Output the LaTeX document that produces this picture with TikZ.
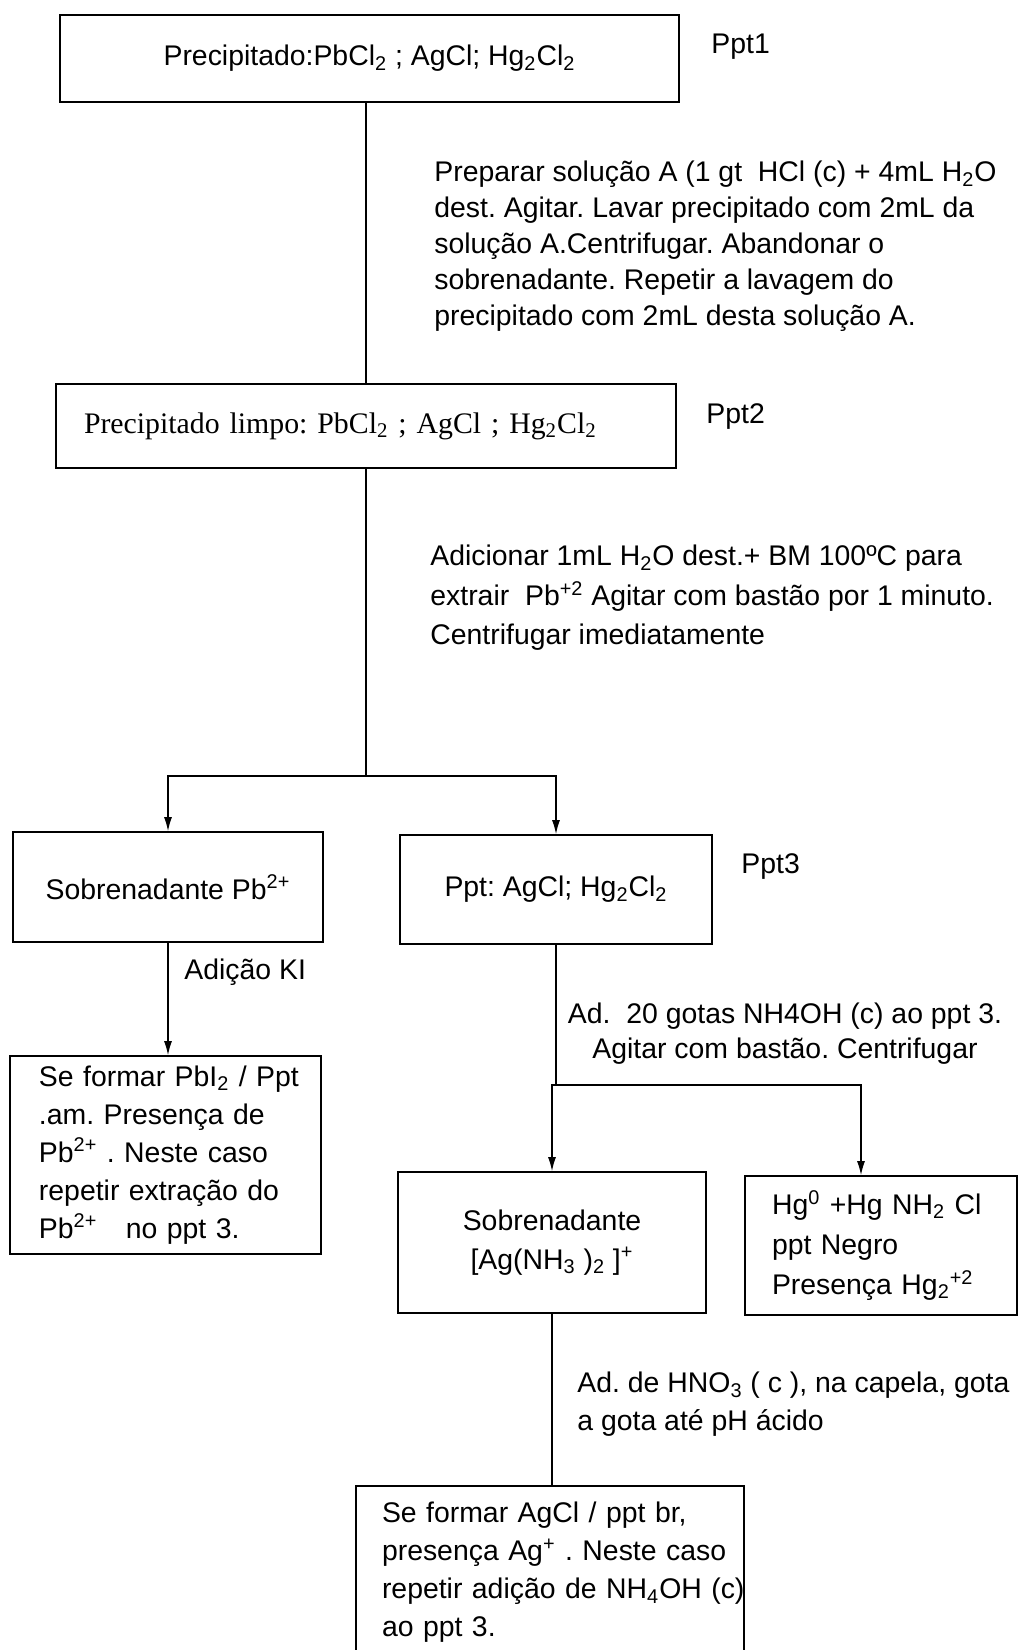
\documentclass[tikz,border=0pt]{standalone}
\usepackage{fontspec}
\setmainfont{Liberation Sans}
\newfontfamily\serifchem{Liberation Serif}
\usetikzlibrary{arrows.meta}
\frenchspacing

\newcommand{\lbl}[1]{\fontsize{14.2}{#1}\selectfont}

\tikzset{
	box/.style = {draw, line width = 0.9pt, inner sep = 0pt, font = {\lbl{19}}},
	note/.style = {inner sep = 0pt, align = left, anchor = north west, font = {\lbl{18}}},
	flow/.style = {line width = 0.6pt},
	>={Latex[length = 7pt, width = 4pt]}
}

\begin{document}
\begin{tikzpicture}[x = 0.5pt, y = -0.5pt]
	\useasboundingbox (0,0) rectangle (1020,1650);

	% caixas
	\node[box, minimum width = 309.5pt, minimum height = 43.5pt] (ppt1) at (369.5,58.5)
		{Precipitado:PbCl\textsubscript{2} ; AgCl; Hg\textsubscript{2}Cl\textsubscript{2}};
	\node[box, minimum width = 310pt, minimum height = 42pt, text width = 282pt, align = left,
		font = {\serifchem\fontsize{14.9}{19}\selectfont}] (ppt2) at (366,426)
		{\mbox{Precipitado limpo: PbCl\textsubscript{2} ; AgCl ; Hg\textsubscript{2}Cl\textsubscript{2}}};
	\node[box, minimum width = 155pt, minimum height = 55pt] (sob1) at (168,887)
		{Sobrenadante Pb\textsuperscript{2+}};
	\node[box, minimum width = 156pt, minimum height = 54.5pt] (ppt3) at (556,889.5)
		{Ppt: AgCl; Hg\textsubscript{2}Cl\textsubscript{2}};
	\node[box, minimum width = 155.5pt, minimum height = 99pt, text width = 126.5pt, align = left] (res1) at (165.5,1155)
		{\mbox{Se formar PbI\textsubscript{2} / Ppt}\\ \mbox{.am. Presença de}\\
		\mbox{Pb\textsuperscript{2+} . Neste caso}\\ \mbox{repetir extração do}\\
		\mbox{Pb\textsuperscript{2+}~~ no ppt 3.}};
	\node[box, minimum width = 154pt, minimum height = 70.5pt, align = center, font = {\lbl{19.5}}] (sob2) at (552,1242.5)
		{Sobrenadante\\ {[}Ag(NH\textsubscript{3} )\textsubscript{2} {]}\textsuperscript{+}};
	\node[box, minimum width = 136pt, minimum height = 69.5pt, text width = 109pt, align = left, font = {\lbl{20}}] (hg) at (881,1245.5)
		{\mbox{Hg\textsuperscript{0} +Hg NH\textsubscript{2} Cl}\\ \mbox{ppt Negro}\\
		\mbox{Presença Hg\textsubscript{2}\textsuperscript{+2}}};
	\node[box, minimum width = 194pt, minimum height = 86.5pt, text width = 168pt, align = left] (agcl) at (550,1572.5)
		{\mbox{Se formar AgCl / ppt br,}\\ \mbox{presença Ag\textsuperscript{+} . Neste caso}\\
		\mbox{repetir adição de NH\textsubscript{4}OH (c)}\\ \mbox{ao ppt 3.}};

	% rotulos
	\node[note] (rot1) at (711,34) {Ppt1};
	\node[note] (rot2) at (706,403) {Ppt2};
	\node[note] (rot3) at (741,853) {Ppt3};

	% procedimentos
	\node[note] (passo1) at (434,161)
		{Preparar solução A (1 gt~ HCl (c) + 4mL H\textsubscript{2}O\\
		dest. Agitar. Lavar precipitado com 2mL da\\
		solução A.Centrifugar. Abandonar o\\
		sobrenadante. Repetir a lavagem do\\
		precipitado com 2mL desta solução A.};
	\node[note, font = {\lbl{19.75}}] (passo2) at (430,545)
		{Adicionar 1mL H\textsubscript{2}O dest.+ BM 100ºC para\\
		extrair~ Pb\textsuperscript{+2} Agitar com bastão por 1 minuto.\\
		Centrifugar imediatamente};
	\node[note] (passo3) at (184,959) {Adição KI};
	\node[note, align = center, anchor = north, font = {\lbl{17.5}}] (passo4) at (785,1003)
		{Ad.~ 20 gotas NH4OH (c) ao ppt 3.\\ Agitar com bastão. Centrifugar};
	\node[note, font = {\lbl{19}}] (passo5) at (577,1372)
		{Ad. de HNO\textsubscript{3} ( c ), na capela, gota\\ a gota até pH ácido};

	% ligacoes
	\coordinate (fork1) at (366,776);
	\coordinate (fork2) at (556,1085);
	\draw[flow] (ppt2.north |- ppt1.south) -- (ppt2.north);
	\draw[flow] (ppt2.south) -- (fork1);
	\draw[flow, ->] (fork1) -| (sob1.north);
	\draw[flow, ->] (fork1) -| (ppt3.north);
	\draw[flow, ->] (sob1.south) -- (sob1.south |- res1.north);
	\draw[flow] (ppt3.south) -- (fork2);
	\draw[flow, ->] (fork2) -| (sob2.north);
	\draw[flow, ->] (fork2) -| ([xshift = -10pt]hg.north);
	\draw[flow] (sob2.south) -- (sob2.south |- agcl.north);
\end{tikzpicture}
\end{document}
